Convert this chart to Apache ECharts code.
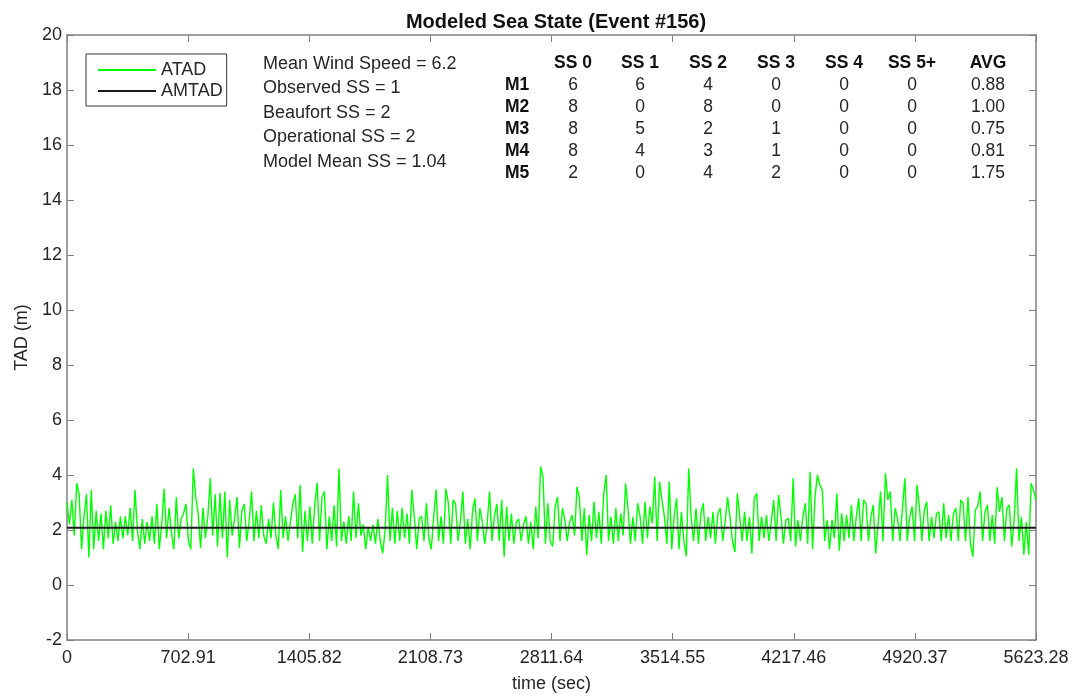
<!DOCTYPE html>
<html>
<head>
<meta charset="utf-8">
<title>Modeled Sea State</title>
<script src="https://cdn.jsdelivr.net/npm/echarts/dist/echarts.min.js"></script>
<style>
  html, body { margin: 0; padding: 0; background: #fff; }
  #chart { width: 1075px; height: 699px; }
</style>
</head>
<body>
<div id="chart"></div>
<script>
// TAD samples, evenly spaced over the event
const tadValues = [
  3.0, 2.2, 3.1, 1.8, 3.7, 3.3, 1.3, 2.5, 3.3, 1.0, 3.45, 1.3, 2.7, 1.6, 2.6, 1.3, 2.7, 1.7, 2.9, 1.5,
  2.3, 1.6, 2.5, 1.7, 2.5, 1.8, 2.8, 1.6, 3.45, 2.0, 1.3, 2.4, 1.5, 2.3, 1.6, 2.5, 1.5, 2.95, 1.3, 2.2,
  3.5, 1.7, 2.8, 1.9, 1.3, 3.2, 1.7, 2.4, 2.6, 2.95, 1.6, 1.3, 4.24, 3.2, 2.6, 1.35, 2.8, 1.7, 2.5, 3.88,
  1.8, 3.3, 1.4, 3.35, 1.7, 3.4, 1.0, 3.1, 1.8, 2.4, 3.2, 1.35, 2.7, 2.95, 1.6, 2.3, 3.4, 1.6, 2.7, 1.7,
  2.9, 1.8, 1.5, 2.4, 1.7, 3.0, 1.8, 1.3, 3.45, 1.7, 2.5, 1.6, 2.3, 2.95, 3.3, 1.7, 3.64, 1.2, 2.7, 1.6,
  2.85, 1.5, 2.9, 3.72, 1.6, 3.2, 3.4, 1.3, 2.5, 1.6, 2.9, 1.4, 4.24, 1.6, 2.3, 1.5, 2.5, 1.6, 3.4, 1.7,
  2.97, 1.8, 2.2, 1.3, 2.1, 1.6, 2.2, 1.5, 2.4, 1.6, 1.15, 2.0, 4.0, 1.6, 2.8, 1.5, 2.7, 1.6, 2.8, 1.7,
  2.6, 1.5, 3.45, 2.5, 1.3, 2.4, 2.5, 1.6, 2.97, 1.7, 1.3, 2.5, 3.47, 1.6, 2.5, 1.5, 3.5, 3.0, 1.5, 3.1,
  2.95, 1.6, 2.3, 3.4, 1.5, 2.4, 1.3, 2.7, 3.15, 1.6, 2.8, 2.3, 1.5, 2.2, 3.4, 1.6, 2.5, 2.95, 1.6, 3.1,
  1.03, 2.85, 1.6, 2.6, 1.5, 2.3, 2.4, 1.6, 2.2, 2.5, 1.5, 2.3, 1.3, 2.85, 1.7, 4.3, 3.94, 1.5, 2.97, 1.6,
  1.4, 2.85, 3.2, 1.6, 2.8, 2.36, 1.6, 2.3, 2.54, 1.8, 3.57, 3.15, 1.6, 2.79, 1.09, 2.54, 1.6, 3.03, 1.7, 2.66,
  1.5, 3.3, 4.0, 1.6, 2.48, 1.5, 2.79, 1.6, 2.6, 1.8, 3.7, 2.79, 1.5, 2.48, 1.6, 2.97, 2.48, 1.5, 3.03, 1.7,
  2.85, 2.24, 3.94, 1.6, 3.76, 3.09, 2.48, 1.5, 3.76, 1.3, 2.5, 3.15, 1.3, 2.66, 1.6, 1.05, 4.24, 2.48, 1.6, 2.79,
  1.5, 2.6, 2.97, 1.6, 2.48, 1.7, 2.66, 1.5, 2.6, 2.79, 1.6, 2.3, 3.2, 2.48, 1.6, 1.2, 3.33, 2.48, 1.6, 2.66,
  1.6, 2.48, 1.15, 3.15, 3.33, 1.6, 2.48, 1.7, 2.54, 1.6, 2.3, 3.09, 1.6, 3.27, 2.48, 1.5, 2.36, 2.42, 1.6, 3.88,
  1.4, 2.36, 1.6, 2.48, 2.97, 1.5, 4.12, 1.3, 3.2, 4.0, 3.63, 3.45, 1.6, 2.36, 1.3, 2.36, 1.7, 3.33, 1.25, 2.6,
  1.6, 2.54, 1.7, 2.91, 1.6, 2.48, 3.15, 1.6, 3.09, 2.97, 1.6, 2.48, 2.91, 1.15, 2.24, 3.4, 1.6, 4.06, 3.09, 3.4,
  1.6, 2.79, 2.42, 1.6, 2.79, 3.88, 1.6, 2.48, 2.85, 1.6, 3.64, 2.85, 1.6, 2.73, 3.03, 1.6, 2.48, 1.7, 2.6, 2.66,
  1.6, 2.97, 1.7, 2.54, 1.6, 2.6, 2.79, 1.6, 3.09, 2.97, 1.6, 3.2, 1.5, 1.03, 2.73, 2.85, 3.4, 1.6, 2.66, 2.91,
  1.6, 2.54, 1.5, 3.55, 2.66, 3.2, 1.6, 2.79, 2.91, 1.4, 2.36, 4.24, 1.6, 2.48, 1.1, 2.3, 1.1, 3.7, 3.45, 3.09
];
// mean TAD (flat line)
const amtadTimes = [0, 5623.28];
const amtadValues = [2.08, 2.08];

const timeMax = 5623.28;
const timeStep = 702.91;
const xTickLabels = ['0', '702.91', '1405.82', '2108.73', '2811.64', '3514.55', '4217.46', '4920.37', '5623.28'];

const infoLines = [
  'Mean Wind Speed = 6.2',
  'Observed SS = 1',
  'Beaufort SS = 2',
  'Operational SS = 2',
  'Model Mean SS = 1.04'
];
const tableHeader = ['SS 0', 'SS 1', 'SS 2', 'SS 3', 'SS 4', 'SS 5+', 'AVG'];
const modelNames = ['M1', 'M2', 'M3', 'M4', 'M5'];
const modelCounts = [
  [6, 6, 4, 0, 0, 0],
  [8, 0, 8, 0, 0, 0],
  [8, 5, 2, 1, 0, 0],
  [8, 4, 3, 1, 0, 0],
  [2, 0, 4, 2, 0, 0]
];
const modelAvg = ['0.88', '1.00', '0.75', '0.81', '1.75'];

var font = 'Arial, "Liberation Sans", Helvetica, sans-serif';
var axisColor = '#808080';
var labelColor = '#262626';
var fs = 17.5;

var dt = timeMax / (tadValues.length - 1);
var tadData = tadValues.map(function (v, i) { return [i * dt, v]; });
var amtadData = amtadTimes.map(function (t, i) { return [t, amtadValues[i]]; });

// texts in the upper part of the axes
var graphics = [];
infoLines.forEach(function (line, k) {
  graphics.push({
    type: 'text', x: 263, y: 64 + k * 24.4,
    style: { text: line, font: '18px ' + font, fill: labelColor, verticalAlign: 'middle' }
  });
});
var colX = [573, 640, 708, 776, 844, 912, 988];
var rowY = 63;
var rowStep = 22;
tableHeader.forEach(function (h, c) {
  graphics.push({
    type: 'text', x: colX[c], y: rowY,
    style: { text: h, font: 'bold ' + fs + 'px ' + font, fill: '#111', align: 'center', verticalAlign: 'middle' }
  });
});
modelNames.forEach(function (name, r) {
  var y = rowY + 22.5 + r * rowStep;
  graphics.push({
    type: 'text', x: 505, y: y,
    style: { text: name, font: 'bold ' + fs + 'px ' + font, fill: '#111', verticalAlign: 'middle' }
  });
  modelCounts[r].forEach(function (n, c) {
    graphics.push({
      type: 'text', x: colX[c], y: y,
      style: { text: String(n), font: fs + 'px ' + font, fill: labelColor, align: 'center', verticalAlign: 'middle' }
    });
  });
  graphics.push({
    type: 'text', x: colX[6], y: y,
    style: { text: modelAvg[r], font: fs + 'px ' + font, fill: labelColor, align: 'center', verticalAlign: 'middle' }
  });
});

var boxAxis = {
  axisLine: { show: true, onZero: false, lineStyle: { color: axisColor, width: 1.5 } },
  axisTick: { show: true, inside: true, length: 7, lineStyle: { color: axisColor } },
  splitLine: { show: false }
};

var option = {
  animation: false,
  backgroundColor: '#fff',
  title: {
    text: 'Modeled Sea State (Event #156)',
    left: 551, top: 7, textAlign: 'center',
    textStyle: { fontFamily: font, fontSize: 20, fontWeight: 'bold', color: '#111' }
  },
  grid: { left: 67, right: 39, top: 35, bottom: 59 },
  legend: {
    data: [{ name: 'ATAD', icon: 'rect' }, { name: 'AMTAD', icon: 'rect' }],
    orient: 'vertical',
    left: 86, top: 54,
    padding: [7, 4, 6, 12],
    itemWidth: 58, itemHeight: 2, itemGap: 3,
    borderColor: '#333', borderWidth: 1, backgroundColor: '#fff',
    textStyle: { fontFamily: font, fontSize: 18, color: labelColor }
  },
  xAxis: [
    Object.assign({
      type: 'value', min: 0, max: timeMax, interval: timeStep, position: 'bottom',
      name: 'time (sec)', nameLocation: 'middle', nameGap: 35,
      nameTextStyle: { fontFamily: font, fontSize: 18, color: labelColor },
      axisLabel: {
        fontFamily: font, fontSize: 18, color: labelColor, margin: 9,
        formatter: function (v) { return xTickLabels[Math.round(v / timeStep)]; }
      }
    }, boxAxis),
    Object.assign({
      type: 'value', min: 0, max: timeMax, interval: timeStep, position: 'top',
      axisLabel: { show: false }
    }, boxAxis)
  ],
  yAxis: [
    Object.assign({
      type: 'value', min: -2, max: 20, interval: 2, position: 'left',
      name: 'TAD (m)', nameLocation: 'middle', nameGap: 36,
      nameTextStyle: { fontFamily: font, fontSize: 18, color: labelColor },
      axisLabel: { fontFamily: font, fontSize: 18, color: labelColor, margin: 5 }
    }, boxAxis),
    Object.assign({
      type: 'value', min: -2, max: 20, interval: 2, position: 'right',
      axisLabel: { show: false }
    }, boxAxis)
  ],
  graphic: graphics,
  series: [
    {
      name: 'ATAD', type: 'line', data: tadData,
      symbol: 'none', xAxisIndex: 0, yAxisIndex: 0,
      lineStyle: { color: '#00ff00', width: 1.4 },
      itemStyle: { color: '#00ff00' }
    },
    {
      name: 'AMTAD', type: 'line', data: amtadData,
      symbol: 'none', xAxisIndex: 0, yAxisIndex: 0,
      lineStyle: { color: '#1a1a1a', width: 2 },
      itemStyle: { color: '#1a1a1a' }
    }
  ]
};

var chart = echarts.init(document.getElementById('chart'));
chart.setOption(option);
</script>
</body>
</html>
